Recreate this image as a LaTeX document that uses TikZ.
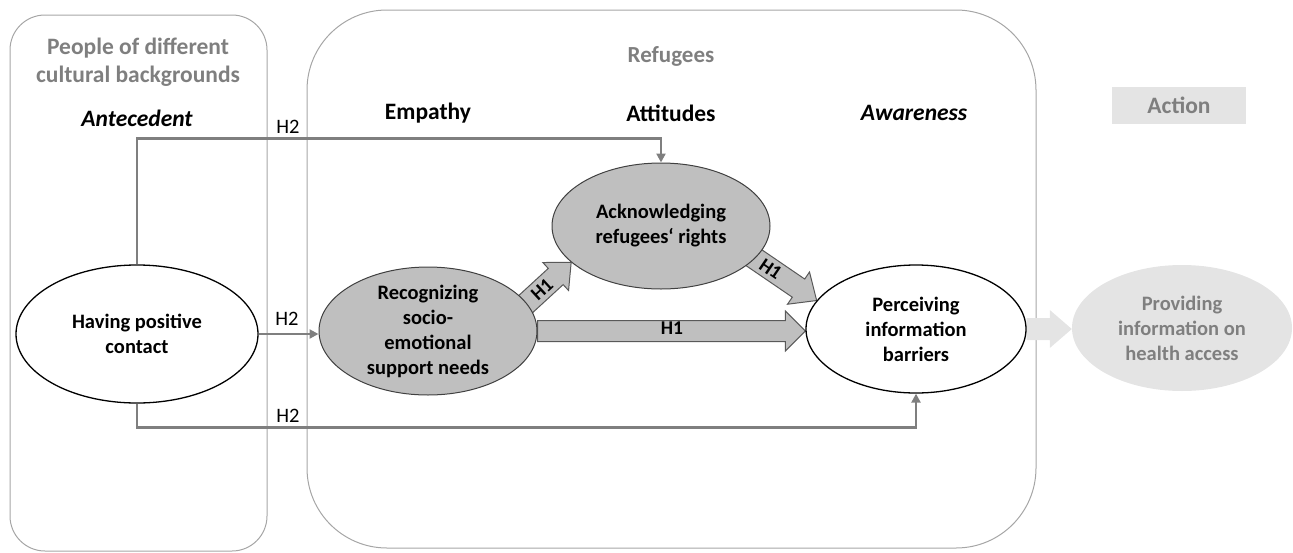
\documentclass[tikz,border=0pt]{standalone}
\usepackage{fontspec}
\setmainfont{Carlito}
\usetikzlibrary{shapes.geometric,arrows.meta,calc,backgrounds}
\definecolor{boxline}{HTML}{A6A6A6}
\definecolor{hdgray}{HTML}{7F7F7F}
\definecolor{conn}{HTML}{7F7F7F}
\definecolor{ellgray}{HTML}{BFBFBF}
\definecolor{ellline}{HTML}{404040}
\definecolor{lightfill}{HTML}{E4E4E4}
\definecolor{arrline}{HTML}{595959}
\newcommand\fatarrow[6]{%
 \coordinate (fah) at ($(#3)!#6!(#2)$);
 \path[#1] ($(#2)!#4!90:(#3)$) -- ($(fah)!#4!90:(#3)$) -- ($(fah)!#5!90:(#3)$) -- (#3) -- ($(fah)!#5!-90:(#3)$) -- ($(fah)!#4!-90:(#3)$) -- ($(#2)!#4!-90:(#3)$) -- cycle;}
\tikzset{
 ell/.style={ellipse, inner sep=-8pt, align=center},
 wellipse/.style={ell, draw=black, line width=1.3pt, fill=white},
 gellipse/.style={ell, draw=ellline, line width=1pt, fill=ellgray},
 pellipse/.style={ell, fill=lightfill, text=hdgray},
 hdr/.style={font=\fontsize{23.5}{28}\selectfont\bfseries, text=hdgray, align=center},
 col/.style={font=\fontsize{23.5}{28}\selectfont\bfseries},
 lbl/.style={font=\fontsize{20.5}{24}\selectfont},
 h1lbl/.style={font=\fontsize{19.5}{22}\selectfont\bfseries, inner sep=0pt},
 conline/.style={draw=conn, line width=2.5pt, -{Triangle[length=9pt,width=9pt]}},
 fatgray/.style={fill=ellgray, draw=arrline, line width=1pt, line join=miter},
 fatlight/.style={fill=lightfill},
 boxframe/.style={draw=boxline, line width=1pt}
}
\begin{document}
\begin{tikzpicture}[x=1pt, y=-1pt, font=\fontsize{20.5}{25}\selectfont\bfseries]
\useasboundingbox (0,0) rectangle (1293,552);
% nodes
\node[wellipse, minimum width=242, minimum height=138] (hav) at (137,334) {Having positive\\contact};
\node[gellipse, minimum width=218, minimum height=128] (rec) at (428,331) {Recognizing\\socio-\\emotional\\support needs};
\node[gellipse, minimum width=218, minimum height=126] (ack) at (661,226) {Acknowledging\\refugees‘ rights};
\node[wellipse, minimum width=220, minimum height=128] (per) at (916,329) {Perceiving\\information\\barriers};
\node[pellipse, minimum width=220, minimum height=126] (pro) at (1182,328) {Providing\\information on\\health access};
% headers
\node[hdr] (ppl) at (138,62) {People of different\\cultural backgrounds};
\node[col, font=\fontsize{23.5}{28}\selectfont\bfseries\itshape] (ante) at (137,118) {Antecedent};
\node[hdr, font=\fontsize{23}{28}\selectfont\bfseries] (refu) at (671,56) {Refugees};
\node[col] (emp) at (428,113) {Empathy};
\node[col] (att) at (671,113) {Attitudes};
\node[col, font=\fontsize{23.5}{28}\selectfont\bfseries\itshape] (awa) at (914,113) {Awareness};
\node[col, fill=lightfill, text=hdgray, minimum width=134, minimum height=37, inner sep=0pt] (act) at (1179,105.5) {Action};
% arrow end coordinates
\coordinate (a1s) at (516,313);
\coordinate (a1e) at (ack.202);
\coordinate (a2s) at (728,240);
\coordinate (a2e) at (per.164.6);
\coordinate (a3s) at (rec.east);
\coordinate (a3e) at (rec.east -| per.west);
\coordinate (a4s) at (per.east);
\coordinate (a4e) at (per.east -| pro.west);
\begin{pgfonlayer}{background}
\path[boxframe, rounded corners=35] (10,15) rectangle (267,551);
\path[boxframe, rounded corners=80] (307,10) rectangle (1036,548);
\fatarrow{fatgray}{a1s}{a1e}{11pt}{19pt}{21pt}
\fatarrow{fatgray}{a2s}{a2e}{11pt}{19.5pt}{22pt}
\fatarrow{fatgray}{a3s}{a3e}{10.5pt}{20pt}{20pt}
\fatarrow{fatlight}{a4s}{a4e}{11pt}{19pt}{22pt}
\end{pgfonlayer}
% H1 labels
\path (a1s) -- (a1e) node[pos=0.47, sloped, h1lbl] (h1a) {H1};
\path (a2s) -- (a2e) node[pos=0.48, sloped, h1lbl] (h1b) {H1};
\node[h1lbl] (h1c) at (672,328) {H1};
% H2 connectors
\draw[conline] (hav.north) |- ($(ack.north)+(0,-24)$) -- (ack.north);
\draw[conline] (hav.east) -- (hav.east -| rec.west);
\draw[conline] (hav.south) -- ++(0,24) -| (per.south);
\node[lbl] (h2a) at (288,127) {H2};
\node[lbl] (h2b) at (287,319) {H2};
\node[lbl] (h2c) at (288,416) {H2};
\end{tikzpicture}
\end{document}
